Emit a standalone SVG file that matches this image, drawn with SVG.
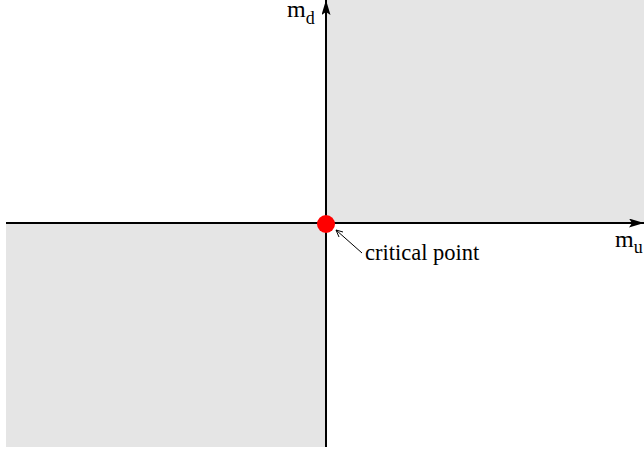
<svg xmlns="http://www.w3.org/2000/svg" width="644" height="453" viewBox="0 0 644 453">
<style>
.region{fill:#e5e5e5;stroke:none}
.axis{stroke:#000;stroke-width:2;fill:none}
.lbl{font-family:"Liberation Serif",serif;fill:#000}
</style>
<defs>
<marker id="ah" markerWidth="15" markerHeight="9" refX="15" refY="4.5" orient="auto" markerUnits="userSpaceOnUse">
<path d="M0,0 L15,4.5 L0,9 L3,4.5 Z" fill="#000"/>
</marker>
</defs>
<rect class="region" x="327" y="0" width="317" height="222"/>
<rect class="region" x="6" y="224" width="319" height="223"/>
<g id="connectors">
<line class="axis" x1="6" y1="223" x2="644" y2="223" marker-end="url(#ah)"/>
<line class="axis" x1="326" y1="447" x2="326" y2="0" marker-end="url(#ah)"/>
<line x1="362" y1="253" x2="336" y2="230" stroke="#000" stroke-width="1"/>
<path d="M343,232 L336,230 L339,237" fill="none" stroke="#000" stroke-width="1"/>
</g>
<g id="critical-point">
<circle cx="326" cy="224" r="9" fill="#ff0000"/>
<text class="lbl" x="365" y="260" font-size="22.5">critical point</text>
</g>
<g id="md-label">
<text class="lbl" x="287" y="17" font-size="24">m<tspan font-size="18" dy="7">d</tspan></text>
</g>
<g id="mu-label">
<text class="lbl" x="615" y="247" font-size="24">m<tspan font-size="18" dy="6">u</tspan></text>
</g>
</svg>
